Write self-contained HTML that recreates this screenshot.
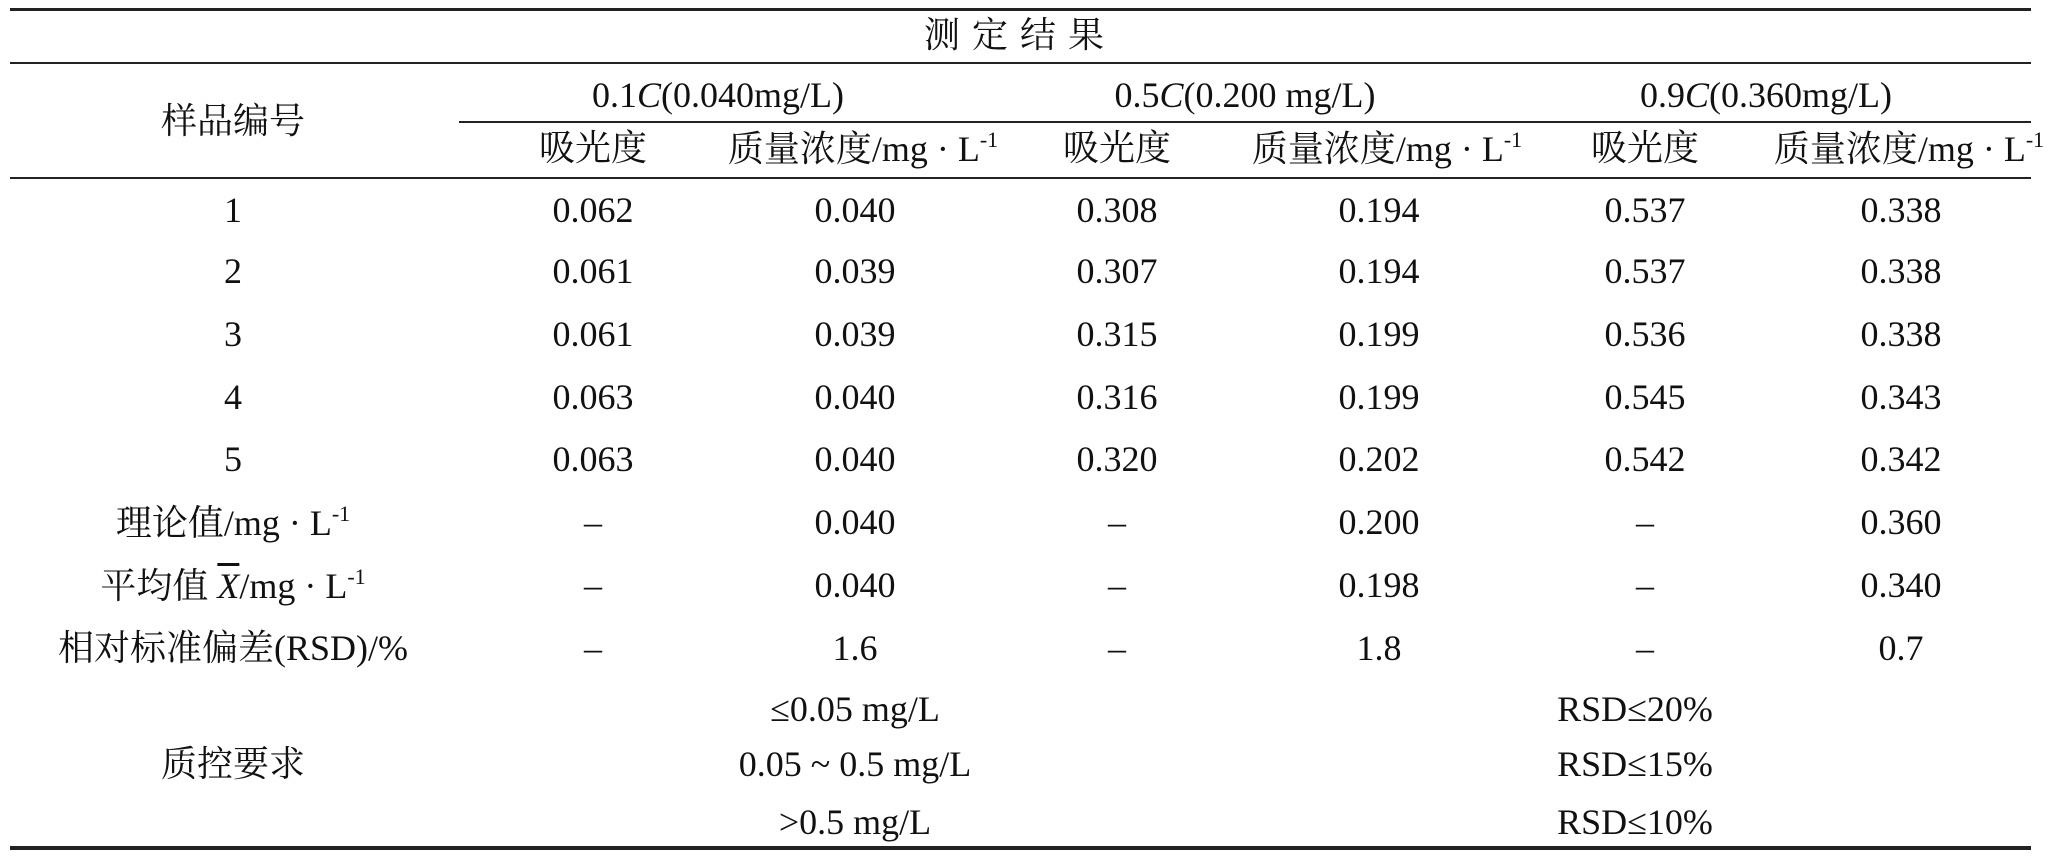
<!DOCTYPE html>
<html><head><meta charset="utf-8">
<style>
body{margin:0;background:#fff;}
#t{position:relative;width:2056px;height:864px;overflow:hidden;background:#fff;font-family:"Liberation Serif","Noto Serif CJK SC",serif;font-size:36px;color:#111;}
.c{position:absolute;transform:translate(-50%,-50%);white-space:nowrap;line-height:1;}
.l{position:absolute;background:#222;}
sup{font-size:22px;vertical-align:14px;}
</style></head><body>
<div id="t">
<div class="l" style="left:10px;top:8px;width:2021px;height:3px;"></div>
<div class="l" style="left:10px;top:62px;width:2021px;height:2px;"></div>
<div class="l" style="left:459px;top:121px;width:1572px;height:2px;"></div>
<div class="l" style="left:10px;top:177px;width:2021px;height:2px;"></div>
<div class="l" style="left:10px;top:846px;width:2021px;height:4px;"></div>

<div class="c" style="left:1020px;top:35px;letter-spacing:12px;">测定结果</div>
<div class="c" style="left:233px;top:121px;">样品编号</div>
<div class="c" style="left:718px;top:95px;">0.1<i>C</i>(0.040mg/L)</div>
<div class="c" style="left:1245px;top:95px;">0.5<i>C</i>(0.200 mg/L)</div>
<div class="c" style="left:1766px;top:95px;">0.9<i>C</i>(0.360mg/L)</div>
<div id="body"></div>
</div>
<script>
const colX=[233,593,855,1117,1379,1645,1901];
const rowY=[210,271,334,397,459,522,585,648];
const rows=[
["1","0.062","0.040","0.308","0.194","0.537","0.338"],
["2","0.061","0.039","0.307","0.194","0.537","0.338"],
["3","0.061","0.039","0.315","0.199","0.536","0.338"],
["4","0.063","0.040","0.316","0.199","0.545","0.343"],
["5","0.063","0.040","0.320","0.202","0.542","0.342"],
["理论值/mg · L<sup>-1</sup>","–","0.040","–","0.200","–","0.360"],
["平均值 <i style='text-decoration:overline'>X</i>/mg · L<sup>-1</sup>","–","0.040","–","0.198","–","0.340"],
["相对标准偏差(RSD)/%","–","1.6","–","1.8","–","0.7"]];
const t=document.getElementById('t');
function add(html,x,y,name){const d=document.createElement('div');d.className='c';d.style.left=x+'px';d.style.top=y+'px';d.innerHTML=html;


t.appendChild(d);}
for(let k=0;k<3;k++){add('吸光度',colX[1+2*k],148,'absorbance-header');add('质量浓度/mg · L<sup>-1</sup>',colX[2+2*k]+8,148,'concentration-header');}
rows.forEach((r,i)=>r.forEach((v,j)=>add(v,colX[j],rowY[i],'cell')));
add('质控要求',233,764,'qc-label');
const qcRange=['≤0.05 mg/L','0.05 ~ 0.5 mg/L','>0.5 mg/L'];
const qcReq=['RSD≤20%','RSD≤15%','RSD≤10%'];
const qcY=[709,764,822];
qcRange.forEach((v,i)=>{add(v,855,qcY[i],'qc-range');add(qcReq[i],1635,qcY[i],'qc-requirement');});
</script>
</body></html>
